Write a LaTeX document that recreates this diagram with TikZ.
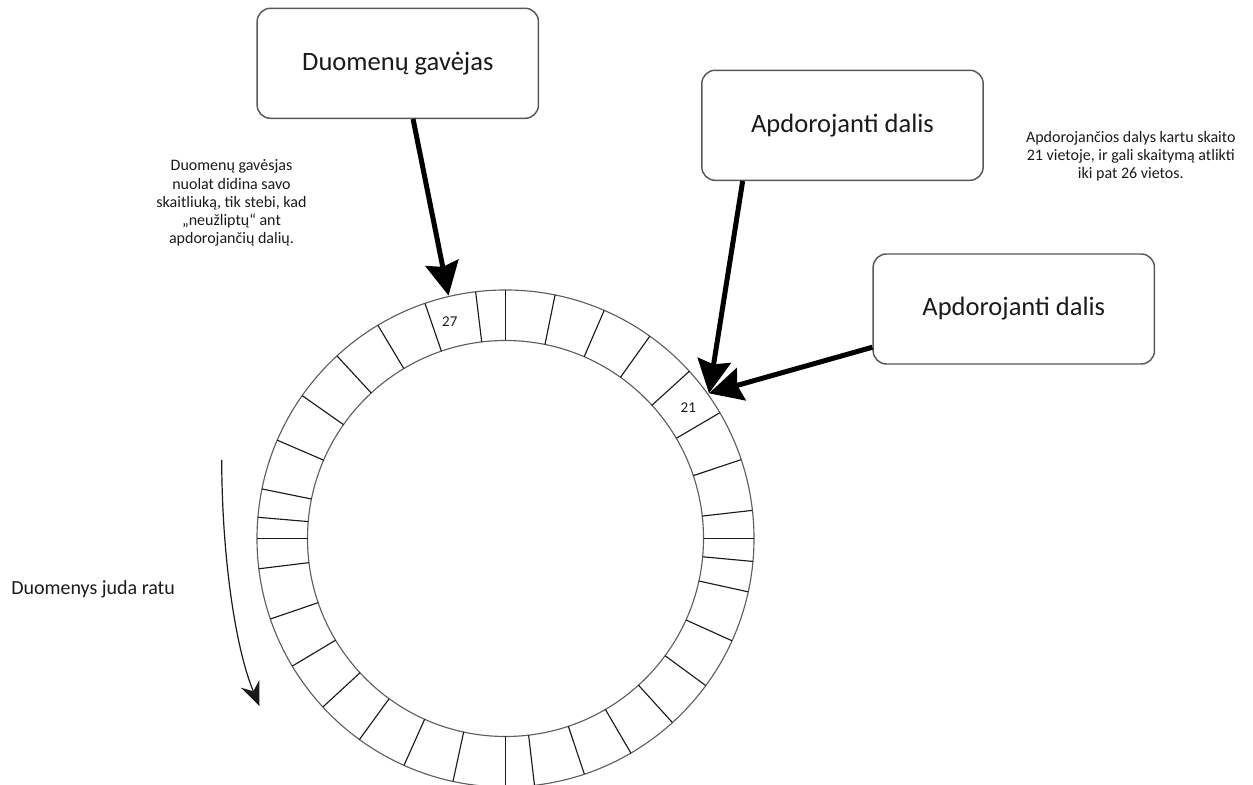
\documentclass[tikz,border=0pt]{standalone}
\usepackage{fontspec}
\setmainfont{Carlito}
\usetikzlibrary{arrows.meta,calc}
\definecolor{boxgray}{HTML}{585858}
\definecolor{ringgray}{HTML}{5E5E5E}
\definecolor{ink}{HTML}{1A1A1A}
\begin{document}
\begin{tikzpicture}[x=0.75pt,y=0.75pt,
  box/.style={draw=boxgray, line width=1.1pt, rounded corners=10pt,
    minimum width=211pt, minimum height=82.5pt, inner sep=0pt,
    font=\fontsize{19.9}{24}\selectfont, text=ink},
  feed/.style={line width=3.75pt, draw=black,
    -{Stealth[length=25pt,width=25pt,inset=3pt]}},
  flow/.style={line width=0.9pt, draw=ink,
    -{Stealth[length=18pt,width=15pt,inset=6pt]}},
  rim/.style={draw=ringgray, line width=0.85pt},
  divider/.style={draw=ink, line width=0.85pt},
  note/.style={align=center, text=ink, inner sep=0pt,
    font=\fontsize{12}{13.7}\selectfont},
  slotlabel/.style={text=ink, inner sep=0pt,
    font=\fontsize{11.25}{13}\selectfont}
]
\useasboundingbox (0,0) rectangle (1253,785);
\clip (0,0) rectangle (1253,785);

% ring buffer
\coordinate (C) at (505.5,246.5);
\draw[rim] (C) circle [radius=248.5];
\draw[rim] (C) circle [radius=198];
\foreach \a in {0,6.5,18.5,30.4,42.3,54.5,66.6,78.5,90,96.9,108.9,120.9,
                132.7,144.9,156.7,168.5,175.1,180,187,198.9,210.9,222.7,
                234,245.9,257.8,270,276.7,288.5,300.3,312.2,323.7,335.7,
                347.6,354.7}
  \draw[divider, shift={(C)}] (\a:198) -- (\a:248.5);

\node[slotlabel] (s27) at ($(C)+(104.4:224)$) {27};
\node[slotlabel] (s21) at ($(C)+(35.5:224.5)$) {21};

% where the pointers touch the ring
\coordinate (tip27) at ($(C)+(103.2:249.5)$);
\coordinate (tip21) at ($(C)+(35.5:250)$);

% boxes
\node[box] (recv)  at (397.8,721.7) {Duomenų gavėjas};
\node[box] (procA) at (842.5,659.7) {Apdorojanti dalis};
\node[box] (procB) at (1013.8,476)  {Apdorojanti dalis};

% pointers
\draw[feed] ($(recv.south west)!0.554!(recv.south east)$) -- (tip27);
\draw[feed] ($(procA.south west)!0.147!(procA.south east)$) -- (tip21);
\draw[feed] ($(procB.north west)!0.843!(procB.south west)$) -- (tip21);

% notes
\node[note] (noteRecv) at (231.5,581.7)
  {Duomenų gavėsjas\\nuolat didina savo\\skaitliuką, tik stebi, kad\\„neužliptų“ ant\\apdorojančių dalių.};
\node[note] (noteProc) at (1130.8,628.7)
  {Apdorojančios dalys kartu skaito\\21 vietoje, ir gali skaitymą atlikti\\iki pat 26 vietos.};

% direction of motion
\coordinate (flowA) at (221.7,325);
\coordinate (flowB) at (259.5,79);
\draw[flow] (flowA) .. controls (222,225) and (236,135) .. (flowB);
\node[anchor=west, inner sep=0pt, text=ink, font=\fontsize{15}{18}\selectfont]
  (flowText) at (11,196) {Duomenys juda ratu};
\end{tikzpicture}
\end{document}
